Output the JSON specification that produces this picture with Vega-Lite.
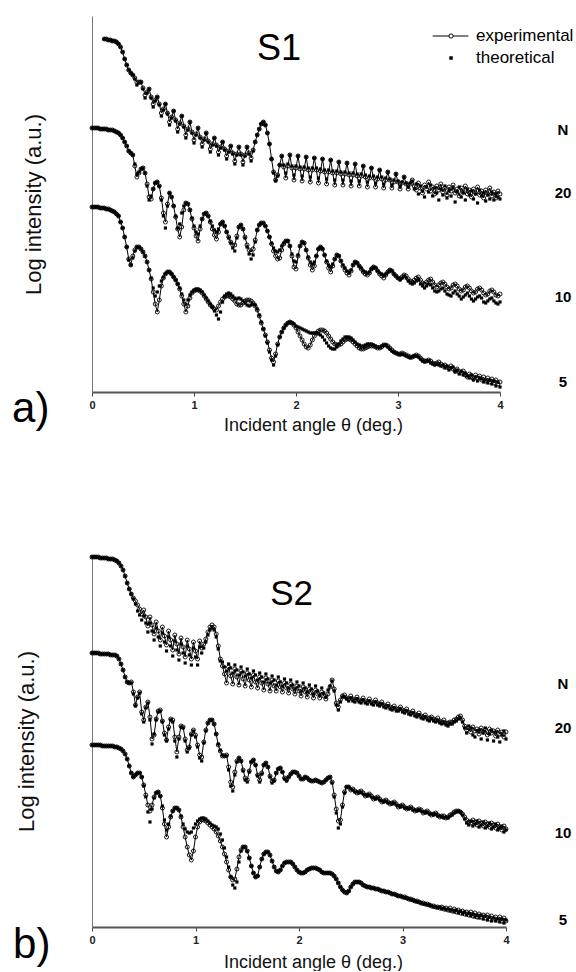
{
"$schema": "https://vega.github.io/schema/vega-lite/v6.json",
"background": "white",
"padding": {"left": 12, "top": 16, "right": 0, "bottom": 0},
"config": {"view": {"stroke": null}, "font": "Liberation Sans", "axis": {"grid": false}},
"datasets": {
"pa": [
{"x":0,"B":264,"b":264,"C":185,"c":185},
{"x":0.02,"B":264,"b":264,"C":185,"c":185},
{"x":0.04,"B":264,"b":264,"C":185,"c":185},
{"x":0.06,"B":264,"b":264,"C":185,"c":185},
{"x":0.08,"B":263,"b":263,"C":184,"c":184},
{"x":0.1,"B":263,"b":263,"C":184,"c":184},
{"x":0.12,"A":353,"a":353,"B":263,"b":263,"C":184,"c":184},
{"x":0.14,"A":353,"a":353,"B":263,"b":263,"C":183,"c":183},
{"x":0.16,"A":352,"a":352,"B":262,"b":262,"C":183,"c":183},
{"x":0.18,"A":352,"a":352,"B":262,"b":262,"C":182,"c":182},
{"x":0.2,"A":351,"a":351,"B":262,"b":262,"C":181,"c":181},
{"x":0.22,"A":351,"a":351,"B":261,"b":261,"C":180,"c":180},
{"x":0.24,"A":350,"a":350,"B":260,"b":260,"C":178,"c":178},
{"x":0.26,"A":348,"a":348,"B":259,"b":259,"C":176,"c":176},
{"x":0.28,"A":345,"a":345,"B":257,"b":257,"C":170,"c":170},
{"x":0.3,"A":340,"a":340,"B":254,"b":254,"C":164,"c":164},
{"x":0.32,"A":333,"a":333,"B":250,"b":250,"C":155,"c":155},
{"x":0.34,"A":327,"a":327,"B":246,"b":246,"C":145,"c":145},
{"x":0.36,"A":322,"a":322,"B":241,"b":241,"C":133,"c":132},
{"x":0.38,"A":319,"a":319,"B":239,"b":239,"C":127,"c":127},
{"x":0.4,"A":317,"a":317,"B":237,"b":237,"C":136,"c":134},
{"x":0.42,"A":314,"a":313,"B":226,"b":228,"C":142,"c":141},
{"x":0.44,"A":310,"a":307,"B":215,"b":218,"C":145,"c":145},
{"x":0.46,"A":310,"a":309,"B":219,"b":220,"C":145,"c":145},
{"x":0.48,"A":310,"a":310,"B":223,"b":223,"C":143,"c":143},
{"x":0.5,"A":304,"a":303,"B":224,"b":224,"C":140,"c":140},
{"x":0.52,"A":297,"a":294,"B":219,"b":219,"C":136,"c":136},
{"x":0.54,"A":300,"a":299,"B":208,"b":206,"C":130,"c":130},
{"x":0.56,"A":303,"a":303,"B":195,"b":192,"C":122,"c":122},
{"x":0.58,"A":295,"a":294,"B":193,"b":196,"C":113,"c":114},
{"x":0.6,"A":288,"a":285,"B":203,"b":203,"C":100,"c":104},
{"x":0.62,"A":292,"a":291,"B":209,"b":209,"C":88,"c":96},
{"x":0.64,"A":295,"a":295,"B":210,"b":210,"C":80,"c":100},
{"x":0.66,"A":288,"a":287,"B":206,"b":206,"C":92,"c":106},
{"x":0.68,"A":279,"a":276,"B":194,"b":192,"C":106,"c":111},
{"x":0.7,"A":283,"a":282,"B":179,"b":176,"C":114,"c":115},
{"x":0.72,"A":288,"a":288,"B":170,"b":164,"C":118,"c":118},
{"x":0.74,"A":279,"a":278,"B":188,"b":186,"C":120,"c":120},
{"x":0.76,"A":270,"a":267,"B":199,"b":199,"C":120,"c":120},
{"x":0.78,"A":275,"a":274,"B":195,"b":195,"C":118,"c":118},
{"x":0.8,"A":281,"a":281,"B":186,"b":186,"C":115,"c":115},
{"x":0.82,"A":272,"a":271,"B":175,"b":176,"C":112,"c":112},
{"x":0.84,"A":263,"a":260,"B":163,"b":164,"C":108,"c":108},
{"x":0.86,"A":269,"a":268,"B":155,"b":168,"C":103,"c":104},
{"x":0.88,"A":276,"a":276,"B":165,"b":179,"C":96,"c":98},
{"x":0.9,"A":266,"a":265,"B":182,"b":186,"C":88,"c":92},
{"x":0.92,"A":257,"a":254,"B":189,"b":189,"C":80,"c":88},
{"x":0.94,"A":263,"a":262,"B":188,"b":188,"C":86,"c":92},
{"x":0.96,"A":270,"a":270,"B":182,"b":182,"C":94,"c":97},
{"x":0.98,"A":260,"a":259,"B":173,"b":174,"C":99,"c":100},
{"x":1,"A":252,"a":249,"B":164,"b":166,"C":101,"c":102},
{"x":1.02,"A":258,"a":257,"B":156,"b":160,"C":102,"c":103},
{"x":1.04,"A":264,"a":264,"B":151,"b":158,"C":102,"c":103},
{"x":1.06,"A":255,"a":254,"B":163,"b":166,"C":101,"c":102},
{"x":1.08,"A":248,"a":245,"B":173,"b":173,"C":99,"c":100},
{"x":1.1,"A":253,"a":252,"B":178,"b":178,"C":96,"c":97},
{"x":1.12,"A":259,"a":259,"B":179,"b":179,"C":93,"c":94},
{"x":1.14,"A":251,"a":250,"B":176,"b":176,"C":90,"c":91},
{"x":1.16,"A":243,"a":240,"B":170,"b":171,"C":87,"c":88},
{"x":1.18,"A":248,"a":247,"B":163,"b":166,"C":85,"c":85},
{"x":1.2,"A":254,"a":254,"B":157,"b":162,"C":83,"c":81},
{"x":1.22,"A":247,"a":246,"B":153,"b":160,"C":82,"c":77},
{"x":1.24,"A":240,"a":237,"B":160,"b":163,"C":86,"c":73},
{"x":1.26,"A":245,"a":244,"B":168,"b":168,"C":90,"c":80},
{"x":1.28,"A":250,"a":250,"B":170,"b":170,"C":93,"c":90},
{"x":1.3,"A":243,"a":242,"B":166,"b":166,"C":95,"c":96},
{"x":1.32,"A":236,"a":233,"B":160,"b":160,"C":96,"c":98},
{"x":1.34,"A":241,"a":240,"B":155,"b":154,"C":96,"c":99},
{"x":1.36,"A":246,"a":246,"B":150,"b":149,"C":95,"c":98},
{"x":1.38,"A":239,"a":238,"B":147,"b":144,"C":93,"c":96},
{"x":1.4,"A":231,"a":228,"B":147,"b":141,"C":91,"c":94},
{"x":1.42,"A":238,"a":237,"B":156,"b":154,"C":88,"c":93},
{"x":1.44,"A":245,"a":245,"B":165,"b":165,"C":87,"c":94},
{"x":1.46,"A":238,"a":237,"B":167,"b":167,"C":87,"c":93},
{"x":1.48,"A":230,"a":227,"B":163,"b":163,"C":89,"c":91},
{"x":1.5,"A":237,"a":236,"B":155,"b":154,"C":91,"c":89},
{"x":1.52,"A":245,"a":245,"B":147,"b":145,"C":92,"c":87},
{"x":1.54,"A":239,"a":238,"B":142,"b":138,"C":92,"c":86},
{"x":1.56,"A":234,"a":231,"B":140,"b":133,"C":91,"c":87},
{"x":1.58,"A":242,"a":241,"B":143,"b":137,"C":89,"c":88},
{"x":1.6,"A":250,"a":250,"B":152,"b":150,"C":86,"c":87},
{"x":1.62,"A":257,"a":257,"B":162,"b":162,"C":82,"c":83},
{"x":1.64,"A":263,"a":263,"B":167,"b":167,"C":76,"c":77},
{"x":1.66,"A":268,"a":268,"B":169,"b":169,"C":69,"c":70},
{"x":1.68,"A":270,"a":270,"B":169,"b":169,"C":63,"c":63},
{"x":1.7,"A":267,"a":267,"B":166,"b":166,"C":57,"c":56},
{"x":1.72,"A":259,"a":259,"B":161,"b":161,"C":50,"c":49},
{"x":1.74,"A":248,"a":248,"B":155,"b":155,"C":42,"c":40},
{"x":1.76,"A":233,"a":233,"B":148,"b":149,"C":34,"c":32},
{"x":1.78,"A":220,"a":219,"B":141,"b":144,"C":30,"c":27},
{"x":1.8,"A":212,"a":211,"B":136,"b":141,"C":38,"c":36},
{"x":1.82,"A":217,"a":216,"B":133,"b":140,"C":48,"c":47},
{"x":1.84,"A":227,"a":227,"B":134,"b":142,"C":55,"c":55},
{"x":1.86,"A":236,"a":236,"B":142,"b":146,"C":60,"c":60},
{"x":1.88,"A":225,"a":227,"B":148,"b":149,"C":64,"c":64},
{"x":1.9,"A":214,"a":219,"B":151,"b":151,"C":67,"c":67},
{"x":1.92,"A":226,"a":228,"B":151,"b":151,"C":69,"c":69},
{"x":1.94,"A":237,"a":237,"B":146,"b":146,"C":70,"c":70},
{"x":1.96,"A":224,"a":226,"B":136,"b":138,"C":69,"c":69},
{"x":1.98,"A":212,"a":217,"B":125,"b":131,"C":67,"c":68},
{"x":2,"A":224,"a":226,"B":123,"b":130,"C":64,"c":66},
{"x":2.02,"A":236,"a":236,"B":136,"b":137,"C":60,"c":65},
{"x":2.04,"A":223,"a":225,"B":146,"b":146,"C":56,"c":64},
{"x":2.06,"A":211,"a":216,"B":150,"b":150,"C":52,"c":63},
{"x":2.08,"A":223,"a":225,"B":149,"b":149,"C":48,"c":62},
{"x":2.1,"A":235,"a":235,"B":142,"b":142,"C":45,"c":61},
{"x":2.12,"A":222,"a":224,"B":134,"b":135,"C":44,"c":60},
{"x":2.14,"A":210,"a":215,"B":127,"b":130,"C":47,"c":59},
{"x":2.16,"A":222,"a":224,"B":122,"b":128,"C":52,"c":59},
{"x":2.18,"A":234,"a":234,"B":126,"b":130,"C":56,"c":59},
{"x":2.2,"A":222,"a":224,"B":136,"b":136,"C":59,"c":59},
{"x":2.22,"A":209,"a":214,"B":143,"b":143,"C":61,"c":58},
{"x":2.24,"A":221,"a":223,"B":145,"b":145,"C":62,"c":57},
{"x":2.26,"A":233,"a":233,"B":143,"b":143,"C":62,"c":55},
{"x":2.28,"A":220,"a":222,"B":137,"b":137,"C":61,"c":52},
{"x":2.3,"A":208,"a":213,"B":130,"b":131,"C":59,"c":49},
{"x":2.32,"A":220,"a":222,"B":124,"b":127,"C":56,"c":46},
{"x":2.34,"A":232,"a":232,"B":120,"b":125,"C":53,"c":44},
{"x":2.36,"A":219,"a":221,"B":126,"b":128,"C":50,"c":43},
{"x":2.38,"A":207,"a":212,"B":133,"b":133,"C":48,"c":43},
{"x":2.4,"A":219,"a":221,"B":137,"b":137,"C":47,"c":45},
{"x":2.42,"A":230,"a":230,"B":136,"b":136,"C":47,"c":48},
{"x":2.44,"A":218,"a":220,"B":131,"b":131,"C":48,"c":51},
{"x":2.46,"A":207,"a":212,"B":126,"b":127,"C":50,"c":53},
{"x":2.48,"A":218,"a":220,"B":122,"b":124,"C":52,"c":55},
{"x":2.5,"A":229,"a":229,"B":119,"b":121,"C":53,"c":55},
{"x":2.52,"A":217,"a":219,"B":117,"b":120,"C":53,"c":55},
{"x":2.54,"A":206,"a":211,"B":121,"b":122,"C":52,"c":54},
{"x":2.56,"A":217,"a":219,"B":127,"b":127,"C":50,"c":52},
{"x":2.58,"A":228,"a":228,"B":130,"b":130,"C":48,"c":50},
{"x":2.6,"A":216,"a":218,"B":129,"b":129,"C":46,"c":48},
{"x":2.62,"A":206,"a":211,"B":126,"b":126,"C":44,"c":47},
{"x":2.64,"A":216,"a":218,"B":123,"b":124,"C":43,"c":46},
{"x":2.66,"A":226,"a":226,"B":120,"b":121,"C":43,"c":46},
{"x":2.68,"A":215,"a":217,"B":118,"b":120,"C":44,"c":47},
{"x":2.7,"A":205,"a":210,"B":117,"b":119,"C":45,"c":48},
{"x":2.72,"A":214,"a":216,"B":119,"b":120,"C":46,"c":48},
{"x":2.74,"A":224,"a":224,"B":123,"b":123,"C":46,"c":48},
{"x":2.76,"A":214,"a":216,"B":125,"b":125,"C":46,"c":47},
{"x":2.78,"A":205,"a":209,"B":124,"b":124,"C":45,"c":46},
{"x":2.8,"A":213,"a":215,"B":121,"b":121,"C":44,"c":45},
{"x":2.82,"A":222,"a":222,"B":118,"b":119,"C":44,"c":45},
{"x":2.84,"A":213,"a":215,"B":116,"b":118,"C":45,"c":46},
{"x":2.86,"A":204,"a":208,"B":114,"b":117,"C":47,"c":47},
{"x":2.88,"A":212,"a":214,"B":117,"b":118,"C":47,"c":47},
{"x":2.9,"A":220,"a":220,"B":120,"b":120,"C":46,"c":45},
{"x":2.92,"A":212,"a":213,"B":122,"b":122,"C":44,"c":43},
{"x":2.94,"A":204,"a":207,"B":121,"b":121,"C":42,"c":41},
{"x":2.96,"A":210,"a":212,"B":118,"b":118,"C":40,"c":40},
{"x":2.98,"A":218,"a":218,"B":116,"b":116,"C":39,"c":39},
{"x":3,"A":210,"a":211,"B":114,"b":114,"C":38,"c":38},
{"x":3.02,"A":203,"a":206,"B":113,"b":112,"C":38,"c":37},
{"x":3.04,"A":209,"a":210,"B":115,"b":114,"C":39,"c":38},
{"x":3.06,"A":215,"a":215,"B":117,"b":116,"C":38,"c":37},
{"x":3.08,"A":208,"a":209,"B":116,"b":114,"C":37,"c":36},
{"x":3.1,"A":203,"a":205,"B":113,"b":111,"C":36,"c":35},
{"x":3.12,"A":208,"a":209,"B":111,"b":109,"C":35,"c":34},
{"x":3.14,"A":212,"a":211,"B":110,"b":108,"C":35,"c":35},
{"x":3.16,"A":206,"a":203,"B":112,"b":109,"C":36,"c":36},
{"x":3.18,"A":202,"a":208,"B":114,"b":111,"C":37,"c":36},
{"x":3.2,"A":209,"a":198,"B":115,"b":112,"C":36,"c":35},
{"x":3.22,"A":204,"a":206,"B":112,"b":108,"C":34,"c":33},
{"x":3.24,"A":199,"a":201,"B":109,"b":106,"C":32,"c":31},
{"x":3.26,"A":207,"a":195,"B":108,"b":104,"C":31,"c":30},
{"x":3.28,"A":203,"a":205,"B":110,"b":106,"C":31,"c":31},
{"x":3.3,"A":210,"a":200,"B":112,"b":108,"C":32,"c":31},
{"x":3.32,"A":201,"a":207,"B":113,"b":107,"C":31,"c":29},
{"x":3.34,"A":205,"a":196,"B":110,"b":104,"C":29,"c":28},
{"x":3.36,"A":198,"a":204,"B":107,"b":101,"C":28,"c":27},
{"x":3.38,"A":206,"a":199,"B":105,"b":100,"C":29,"c":28},
{"x":3.4,"A":202,"a":192,"B":107,"b":101,"C":30,"c":27},
{"x":3.42,"A":208,"a":203,"B":109,"b":103,"C":28,"c":26},
{"x":3.44,"A":200,"a":197,"B":110,"b":104,"C":26,"c":27},
{"x":3.46,"A":204,"a":206,"B":108,"b":101,"C":27,"c":24},
{"x":3.48,"A":197,"a":194,"B":105,"b":98,"C":25,"c":26},
{"x":3.5,"A":205,"a":201,"B":103,"b":97,"C":24,"c":22},
{"x":3.52,"A":201,"a":196,"B":104,"b":96,"C":26,"c":24},
{"x":3.54,"A":207,"a":204,"B":107,"b":99,"C":23,"c":25},
{"x":3.56,"A":199,"a":190,"B":108,"b":101,"C":21,"c":20},
{"x":3.58,"A":203,"a":200,"B":106,"b":98,"C":23,"c":22},
{"x":3.6,"A":196,"a":205,"B":103,"b":96,"C":20,"c":18},
{"x":3.62,"A":204,"a":195,"B":101,"b":93,"C":19,"c":21},
{"x":3.64,"A":200,"a":199,"B":102,"b":95,"C":21,"c":17},
{"x":3.66,"A":206,"a":192,"B":105,"b":97,"C":17,"c":19},
{"x":3.68,"A":198,"a":203,"B":106,"b":99,"C":15,"c":16},
{"x":3.7,"A":202,"a":197,"B":104,"b":96,"C":18,"c":14},
{"x":3.72,"A":195,"a":201,"B":101,"b":93,"C":16,"c":17},
{"x":3.74,"A":203,"a":193,"B":99,"b":91,"C":13,"c":12},
{"x":3.76,"A":199,"a":198,"B":100,"b":93,"C":17,"c":15},
{"x":3.78,"A":205,"a":189,"B":103,"b":95,"C":14,"c":11},
{"x":3.8,"A":197,"a":202,"B":104,"b":96,"C":16,"c":14},
{"x":3.82,"A":201,"a":196,"B":102,"b":94,"C":12,"c":13},
{"x":3.84,"A":194,"a":199,"B":99,"b":90,"C":15,"c":10},
{"x":3.86,"A":202,"a":191,"B":97,"b":89,"C":11,"c":12},
{"x":3.88,"A":198,"a":197,"B":98,"b":91,"C":14,"c":9},
{"x":3.9,"A":204,"a":193,"B":101,"b":93,"C":10,"c":12},
{"x":3.92,"A":196,"a":200,"B":102,"b":94,"C":13,"c":8},
{"x":3.94,"A":200,"a":192,"B":100,"b":91,"C":9,"c":11},
{"x":3.96,"A":194,"a":198,"B":97,"b":89,"C":12,"c":6},
{"x":3.98,"A":201,"a":195,"B":96,"b":88,"C":8,"c":10},
{"x":4,"A":198,"a":193,"B":98,"b":90,"C":10,"c":5}
],
"pb": [
{"x":0,"A":370,"a":370,"B":274,"b":274,"C":182,"c":182},
{"x":0.02,"A":370,"a":370,"B":274,"b":274,"C":182,"c":182},
{"x":0.04,"A":370,"a":370,"B":274,"b":274,"C":182,"c":182},
{"x":0.06,"A":370,"a":370,"B":274,"b":274,"C":182,"c":182},
{"x":0.08,"A":369,"a":369,"B":273,"b":273,"C":182,"c":182},
{"x":0.1,"A":369,"a":369,"B":273,"b":273,"C":181,"c":181},
{"x":0.12,"A":369,"a":369,"B":273,"b":273,"C":181,"c":181},
{"x":0.14,"A":369,"a":369,"B":273,"b":273,"C":181,"c":181},
{"x":0.16,"A":368,"a":368,"B":273,"b":273,"C":181,"c":181},
{"x":0.18,"A":368,"a":368,"B":272,"b":272,"C":181,"c":181},
{"x":0.2,"A":368,"a":368,"B":272,"b":272,"C":181,"c":181},
{"x":0.22,"A":367,"a":367,"B":272,"b":272,"C":180,"c":180},
{"x":0.24,"A":366,"a":366,"B":271,"b":271,"C":180,"c":180},
{"x":0.26,"A":364,"a":364,"B":268,"b":268,"C":179,"c":179},
{"x":0.28,"A":361,"a":361,"B":263,"b":263,"C":178,"c":178},
{"x":0.3,"A":357,"a":357,"B":257,"b":257,"C":176,"c":176},
{"x":0.32,"A":351,"a":351,"B":250,"b":250,"C":173,"c":173},
{"x":0.34,"A":344,"a":344,"B":245,"b":245,"C":168,"c":168},
{"x":0.36,"A":338,"a":338,"B":244,"b":244,"C":161,"c":161},
{"x":0.38,"A":333,"a":333,"B":245,"b":244,"C":154,"c":154},
{"x":0.4,"A":329,"a":328,"B":235,"b":233,"C":150,"c":150},
{"x":0.42,"A":326,"a":323,"B":222,"b":221,"C":152,"c":152},
{"x":0.44,"A":322,"a":316,"B":230,"b":229,"C":154,"c":154},
{"x":0.46,"A":318,"a":312,"B":235,"b":234,"C":154,"c":154},
{"x":0.48,"A":313,"a":307,"B":215,"b":213,"C":150,"c":150},
{"x":0.5,"A":317,"a":311,"B":207,"b":205,"C":142,"c":141},
{"x":0.52,"A":310,"a":304,"B":220,"b":219,"C":132,"c":130},
{"x":0.54,"A":301,"a":295,"B":225,"b":224,"C":122,"c":115},
{"x":0.56,"A":310,"a":304,"B":210,"b":207,"C":116,"c":105},
{"x":0.58,"A":302,"a":296,"B":188,"b":183,"C":122,"c":118},
{"x":0.6,"A":293,"a":287,"B":192,"b":193,"C":130,"c":129},
{"x":0.62,"A":305,"a":299,"B":208,"b":207,"C":134,"c":134},
{"x":0.64,"A":296,"a":290,"B":216,"b":215,"C":135,"c":135},
{"x":0.66,"A":287,"a":281,"B":217,"b":216,"C":131,"c":131},
{"x":0.68,"A":300,"a":294,"B":206,"b":205,"C":119,"c":121},
{"x":0.7,"A":291,"a":285,"B":194,"b":192,"C":103,"c":107},
{"x":0.72,"A":282,"a":276,"B":187,"b":186,"C":90,"c":97},
{"x":0.74,"A":296,"a":290,"B":200,"b":198,"C":100,"c":103},
{"x":0.76,"A":287,"a":281,"B":208,"b":207,"C":110,"c":111},
{"x":0.78,"A":277,"a":271,"B":207,"b":205,"C":116,"c":116},
{"x":0.8,"A":292,"a":286,"B":190,"b":186,"C":119,"c":119},
{"x":0.82,"A":283,"a":277,"B":175,"b":170,"C":119,"c":119},
{"x":0.84,"A":273,"a":267,"B":190,"b":188,"C":117,"c":117},
{"x":0.86,"A":289,"a":283,"B":201,"b":200,"C":110,"c":111},
{"x":0.88,"A":280,"a":274,"B":200,"b":199,"C":100,"c":103},
{"x":0.9,"A":270,"a":264,"B":188,"b":186,"C":90,"c":98},
{"x":0.92,"A":287,"a":281,"B":177,"b":175,"C":80,"c":95},
{"x":0.94,"A":278,"a":272,"B":180,"b":179,"C":72,"c":94},
{"x":0.96,"A":268,"a":262,"B":193,"b":192,"C":67,"c":95},
{"x":0.98,"A":285,"a":279,"B":197,"b":196,"C":76,"c":99},
{"x":1,"A":276,"a":270,"B":192,"b":190,"C":90,"c":103},
{"x":1.02,"A":268,"a":262,"B":182,"b":180,"C":100,"c":106},
{"x":1.04,"A":286,"a":280,"B":172,"b":169,"C":105,"c":108},
{"x":1.06,"A":279,"a":274,"B":170,"b":166,"C":107,"c":109},
{"x":1.08,"A":283,"a":279,"B":185,"b":184,"C":107,"c":109},
{"x":1.1,"A":288,"a":285,"B":197,"b":196,"C":106,"c":108},
{"x":1.12,"A":295,"a":292,"B":204,"b":204,"C":104,"c":106},
{"x":1.14,"A":300,"a":297,"B":207,"b":207,"C":102,"c":104},
{"x":1.16,"A":302,"a":299,"B":207,"b":207,"C":100,"c":102},
{"x":1.18,"A":300,"a":297,"B":203,"b":203,"C":98,"c":101},
{"x":1.2,"A":293,"a":290,"B":193,"b":193,"C":95,"c":100},
{"x":1.22,"A":281,"a":278,"B":182,"b":183,"C":91,"c":98},
{"x":1.24,"A":268,"a":266,"B":176,"b":177,"C":86,"c":93},
{"x":1.26,"A":261,"a":265,"B":171,"b":172,"C":80,"c":87},
{"x":1.28,"A":253,"a":260,"B":171,"b":171,"C":73,"c":79},
{"x":1.3,"A":244,"a":256,"B":172,"b":171,"C":65,"c":70},
{"x":1.32,"A":260,"a":263,"B":160,"b":157,"C":57,"c":60},
{"x":1.34,"A":251,"a":259,"B":145,"b":141,"C":50,"c":50},
{"x":1.36,"A":243,"a":254,"B":140,"b":136,"C":47,"c":42},
{"x":1.38,"A":258,"a":262,"B":155,"b":152,"C":48,"c":39},
{"x":1.4,"A":250,"a":257,"B":166,"b":165,"C":58,"c":45},
{"x":1.42,"A":242,"a":252,"B":169,"b":169,"C":70,"c":65},
{"x":1.44,"A":256,"a":260,"B":166,"b":166,"C":77,"c":76},
{"x":1.46,"A":248,"a":255,"B":157,"b":156,"C":80,"c":80},
{"x":1.48,"A":241,"a":251,"B":149,"b":147,"C":80,"c":80},
{"x":1.5,"A":254,"a":258,"B":147,"b":145,"C":76,"c":76},
{"x":1.52,"A":247,"a":253,"B":156,"b":155,"C":69,"c":69},
{"x":1.54,"A":240,"a":249,"B":165,"b":165,"C":61,"c":61},
{"x":1.56,"A":252,"a":256,"B":167,"b":167,"C":54,"c":54},
{"x":1.58,"A":245,"a":252,"B":162,"b":162,"C":50,"c":50},
{"x":1.6,"A":239,"a":247,"B":152,"b":151,"C":51,"c":51},
{"x":1.62,"A":250,"a":254,"B":147,"b":145,"C":60,"c":60},
{"x":1.64,"A":244,"a":250,"B":154,"b":153,"C":68,"c":68},
{"x":1.66,"A":237,"a":245,"B":162,"b":162,"C":73,"c":73},
{"x":1.68,"A":249,"a":253,"B":164,"b":164,"C":75,"c":75},
{"x":1.7,"A":243,"a":248,"B":160,"b":160,"C":75,"c":75},
{"x":1.72,"A":236,"a":244,"B":151,"b":150,"C":72,"c":72},
{"x":1.74,"A":247,"a":251,"B":146,"b":144,"C":66,"c":66},
{"x":1.76,"A":241,"a":247,"B":147,"b":146,"C":60,"c":60},
{"x":1.78,"A":236,"a":242,"B":154,"b":154,"C":56,"c":56},
{"x":1.8,"A":246,"a":250,"B":158,"b":158,"C":55,"c":55},
{"x":1.82,"A":240,"a":245,"B":159,"b":159,"C":57,"c":57},
{"x":1.84,"A":235,"a":241,"B":155,"b":155,"C":61,"c":61},
{"x":1.86,"A":244,"a":248,"B":149,"b":148,"C":64,"c":64},
{"x":1.88,"A":239,"a":244,"B":147,"b":146,"C":65,"c":65},
{"x":1.9,"A":234,"a":239,"B":150,"b":150,"C":65,"c":65},
{"x":1.92,"A":243,"a":247,"B":153,"b":153,"C":65,"c":65},
{"x":1.94,"A":238,"a":242,"B":155,"b":155,"C":63,"c":63},
{"x":1.96,"A":233,"a":238,"B":155,"b":155,"C":60,"c":60},
{"x":1.98,"A":241,"a":245,"B":154,"b":154,"C":57,"c":57},
{"x":2,"A":236,"a":241,"B":151,"b":151,"C":55,"c":55},
{"x":2.02,"A":231,"a":236,"B":148,"b":148,"C":54,"c":54},
{"x":2.04,"A":240,"a":244,"B":148,"b":148,"C":54,"c":54},
{"x":2.06,"A":235,"a":239,"B":150,"b":150,"C":55,"c":55},
{"x":2.08,"A":230,"a":235,"B":149,"b":149,"C":57,"c":57},
{"x":2.1,"A":238,"a":242,"B":147,"b":147,"C":58,"c":58},
{"x":2.12,"A":234,"a":238,"B":146,"b":146,"C":59,"c":59},
{"x":2.14,"A":229,"a":233,"B":146,"b":146,"C":59,"c":59},
{"x":2.16,"A":237,"a":241,"B":147,"b":147,"C":59,"c":59},
{"x":2.18,"A":233,"a":236,"B":146,"b":146,"C":58,"c":58},
{"x":2.2,"A":229,"a":232,"B":145,"b":145,"C":57,"c":57},
{"x":2.22,"A":235,"a":239,"B":144,"b":144,"C":55,"c":55},
{"x":2.24,"A":231,"a":234,"B":145,"b":145,"C":54,"c":54},
{"x":2.26,"A":228,"a":230,"B":147,"b":147,"C":54,"c":54},
{"x":2.28,"A":233,"a":237,"B":149,"b":149,"C":54,"c":54},
{"x":2.3,"A":240,"a":241,"B":150,"b":150,"C":54,"c":54},
{"x":2.32,"A":247,"a":246,"B":145,"b":144,"C":53,"c":53},
{"x":2.34,"A":238,"a":236,"B":132,"b":130,"C":51,"c":51},
{"x":2.36,"A":224,"a":222,"B":118,"b":114,"C":48,"c":48},
{"x":2.38,"A":220,"a":217,"B":106,"b":99,"C":44,"c":44},
{"x":2.4,"A":227,"a":225,"B":107,"b":103,"C":40,"c":40},
{"x":2.42,"A":231,"a":230,"B":122,"b":120,"C":37,"c":37},
{"x":2.44,"A":232,"a":230,"B":135,"b":134,"C":35,"c":35},
{"x":2.46,"A":229,"a":228,"B":140,"b":140,"C":34,"c":34},
{"x":2.48,"A":228,"a":226,"B":140,"b":140,"C":36,"c":36},
{"x":2.5,"A":231,"a":229,"B":137,"b":138,"C":40,"c":40},
{"x":2.52,"A":228,"a":226,"B":138,"b":137,"C":43,"c":43},
{"x":2.54,"A":227,"a":225,"B":136,"b":135,"C":45,"c":45},
{"x":2.56,"A":230,"a":228,"B":134,"b":135,"C":45,"c":45},
{"x":2.58,"A":227,"a":225,"B":135,"b":134,"C":45,"c":45},
{"x":2.6,"A":226,"a":224,"B":136,"b":135,"C":44,"c":44},
{"x":2.62,"A":229,"a":227,"B":134,"b":133,"C":42,"c":42},
{"x":2.64,"A":226,"a":224,"B":131,"b":132,"C":41,"c":41},
{"x":2.66,"A":225,"a":223,"B":132,"b":131,"C":40,"c":40},
{"x":2.68,"A":228,"a":226,"B":133,"b":132,"C":40,"c":40},
{"x":2.7,"A":225,"a":223,"B":131,"b":130,"C":39,"c":39},
{"x":2.72,"A":224,"a":222,"B":128,"b":129,"C":39,"c":39},
{"x":2.74,"A":227,"a":225,"B":129,"b":128,"C":38,"c":38},
{"x":2.76,"A":224,"a":222,"B":130,"b":129,"C":38,"c":38},
{"x":2.78,"A":223,"a":221,"B":128,"b":127,"C":37,"c":37},
{"x":2.8,"A":225,"a":223,"B":125,"b":126,"C":36,"c":36},
{"x":2.82,"A":222,"a":220,"B":126,"b":125,"C":36,"c":36},
{"x":2.84,"A":221,"a":219,"B":127,"b":126,"C":35,"c":35},
{"x":2.86,"A":223,"a":221,"B":125,"b":124,"C":35,"c":35},
{"x":2.88,"A":220,"a":218,"B":123,"b":124,"C":34,"c":34},
{"x":2.9,"A":219,"a":217,"B":124,"b":123,"C":33,"c":33},
{"x":2.92,"A":221,"a":219,"B":125,"b":124,"C":33,"c":33},
{"x":2.94,"A":218,"a":216,"B":123,"b":122,"C":32,"c":32},
{"x":2.96,"A":218,"a":216,"B":120,"b":121,"C":31,"c":31},
{"x":2.98,"A":220,"a":218,"B":121,"b":120,"C":31,"c":31},
{"x":3,"A":217,"a":215,"B":122,"b":121,"C":30,"c":30},
{"x":3.02,"A":216,"a":214,"B":120,"b":119,"C":30,"c":29},
{"x":3.04,"A":218,"a":216,"B":118,"b":119,"C":29,"c":29},
{"x":3.06,"A":215,"a":213,"B":119,"b":118,"C":28,"c":28},
{"x":3.08,"A":214,"a":212,"B":120,"b":119,"C":28,"c":27},
{"x":3.1,"A":216,"a":214,"B":118,"b":117,"C":27,"c":27},
{"x":3.12,"A":213,"a":211,"B":116,"b":117,"C":26,"c":26},
{"x":3.14,"A":212,"a":210,"B":117,"b":116,"C":26,"c":25},
{"x":3.16,"A":214,"a":212,"B":118,"b":117,"C":25,"c":25},
{"x":3.18,"A":211,"a":209,"B":117,"b":116,"C":24,"c":24},
{"x":3.2,"A":210,"a":208,"B":114,"b":115,"C":24,"c":23},
{"x":3.22,"A":212,"a":210,"B":115,"b":114,"C":23,"c":23},
{"x":3.24,"A":209,"a":207,"B":116,"b":115,"C":23,"c":22},
{"x":3.26,"A":209,"a":206,"B":114,"b":113,"C":22,"c":22},
{"x":3.28,"A":210,"a":208,"B":112,"b":113,"C":21,"c":21},
{"x":3.3,"A":208,"a":206,"B":113,"b":112,"C":21,"c":20},
{"x":3.32,"A":207,"a":205,"B":114,"b":113,"C":20,"c":20},
{"x":3.34,"A":209,"a":206,"B":112,"b":111,"C":20,"c":19},
{"x":3.36,"A":206,"a":204,"B":110,"b":111,"C":19,"c":20},
{"x":3.38,"A":205,"a":203,"B":111,"b":110,"C":20,"c":18},
{"x":3.4,"A":207,"a":204,"B":111,"b":109,"C":18,"c":19},
{"x":3.42,"A":204,"a":202,"B":109,"b":110,"C":19,"c":17},
{"x":3.44,"A":204,"a":201,"B":110,"b":109,"C":17,"c":18},
{"x":3.46,"A":205,"a":203,"B":112,"b":111,"C":19,"c":16},
{"x":3.48,"A":205,"a":203,"B":113,"b":112,"C":16,"c":17},
{"x":3.5,"A":207,"a":205,"B":115,"b":114,"C":18,"c":15},
{"x":3.52,"A":208,"a":206,"B":116,"b":115,"C":15,"c":17},
{"x":3.54,"A":210,"a":208,"B":116,"b":116,"C":17,"c":14},
{"x":3.56,"A":211,"a":209,"B":115,"b":115,"C":14,"c":16},
{"x":3.58,"A":207,"a":205,"B":113,"b":112,"C":16,"c":13},
{"x":3.6,"A":201,"a":199,"B":110,"b":108,"C":13,"c":15},
{"x":3.62,"A":197,"a":194,"B":107,"b":104,"C":15,"c":12},
{"x":3.64,"A":199,"a":201,"B":105,"b":102,"C":12,"c":14},
{"x":3.66,"A":195,"a":199,"B":104,"b":106,"C":15,"c":11},
{"x":3.68,"A":200,"a":192,"B":107,"b":101,"C":11,"c":13},
{"x":3.7,"A":196,"a":190,"B":105,"b":103,"C":14,"c":10},
{"x":3.72,"A":198,"a":196,"B":102,"b":106,"C":10,"c":12},
{"x":3.74,"A":193,"a":197,"B":106,"b":100,"C":13,"c":9},
{"x":3.76,"A":199,"a":188,"B":104,"b":102,"C":10,"c":12},
{"x":3.78,"A":195,"a":194,"B":101,"b":105,"C":12,"c":8},
{"x":3.8,"A":197,"a":199,"B":105,"b":99,"C":9,"c":11},
{"x":3.82,"A":192,"a":187,"B":103,"b":101,"C":12,"c":7},
{"x":3.84,"A":198,"a":193,"B":100,"b":104,"C":8,"c":10},
{"x":3.86,"A":194,"a":197,"B":104,"b":98,"C":11,"c":6},
{"x":3.88,"A":196,"a":186,"B":102,"b":100,"C":8,"c":9},
{"x":3.9,"A":191,"a":195,"B":99,"b":103,"C":10,"c":6},
{"x":3.92,"A":197,"a":190,"B":103,"b":97,"C":7,"c":8},
{"x":3.94,"A":193,"a":185,"B":100,"b":99,"C":10,"c":5},
{"x":3.96,"A":195,"a":192,"B":97,"b":101,"C":6,"c":8},
{"x":3.98,"A":190,"a":196,"B":101,"b":95,"C":9,"c":4},
{"x":4,"A":195,"a":188,"B":98,"b":97,"C":6,"c":7}
]
},
"spacing": 163,
"bounds": "flush",
"vconcat": [
{
"width": 408, "height": 376,
"encoding": {
"x": {"field": "x", "type": "quantitative", "scale": {"domain": [0, 4], "nice": false, "zero": false},
 "axis": {"values": [0,0.5,1,1.5,2,2.5,3,3.5,4], "format": "d", "labelExpr": "datum.value % 1 === 0 ? datum.label : ''",
  "tickSize": 4, "tickColor": "#444", "tickWidth": 1, "domainColor": "#555", "domainWidth": 2,
  "labelFont": "Liberation Sans", "labelFontSize": 11, "labelFontWeight": "bold", "labelColor": "#222", "labelPadding": 3, "labelFlush": false,
  "title": "Incident angle θ (deg.)", "titleFont": "Liberation Sans", "titleFontSize": 18, "titleFontWeight": "normal", "titleColor": "#111",
  "titleX": 221, "titleY": 38, "titleAlign": "center", "titleBaseline": "alphabetic", "grid": false}},
"y": {"field": "h", "type": "quantitative", "scale": {"domain": [0, 376], "nice": false, "zero": false},
 "axis": {"title": "Log intensity (a.u.)", "ticks": false, "labels": false, "domainColor": "#777", "domainWidth": 1,
  "titleFont": "Liberation Sans", "titleFontSize": 22, "titleFontWeight": "normal", "titleColor": "#111",
  "titleX": -52, "titleY": 188, "titleAngle": 270, "titleAlign": "center", "titleBaseline": "alphabetic", "grid": false}}
},
"layer": [
{"data": {"name": "pa"}, "transform": [{"fold": ["A","B","C"], "as": ["k","h"]}, {"filter": "isValid(datum.h)"}],
 "mark": {"type": "line", "color": "black", "strokeWidth": 1}, "encoding": {"detail": {"field": "k"}}},
{"data": {"name": "pa"}, "transform": [{"fold": ["A","B","C"], "as": ["k","h"]}, {"filter": "isValid(datum.h)"}],
 "mark": {"type": "point", "shape": "circle", "filled": false, "color": "black", "strokeWidth": 0.9, "size": 16, "opacity": 1}},
{"data": {"name": "pa"}, "transform": [{"fold": ["a","b","c"], "as": ["k","h"]}, {"filter": "isValid(datum.h)"}],
 "mark": {"type": "square", "color": "black", "size": 10, "opacity": 1}},
{"data": {"values": [{"x": 1.833, "h": 332, "t": "S1"}]},
 "mark": {"type": "text", "fontSize": 36, "font": "Liberation Sans", "align": "center", "baseline": "alphabetic", "color": "black"},
 "encoding": {"text": {"field": "t"}}},
{"data": {"values": [{"x": -0.784, "h": -30, "t": "a)"}]},
 "mark": {"type": "text", "fontSize": 42, "font": "Liberation Sans", "align": "left", "baseline": "alphabetic", "color": "black"},
 "encoding": {"text": {"field": "t"}}},
{"data": {"values": [{"x": 4.618, "h": 262, "t": "N"}, {"x": 4.618, "h": 199, "t": "20"}, {"x": 4.618, "h": 95, "t": "10"}, {"x": 4.618, "h": 10, "t": "5"}]},
 "mark": {"type": "text", "fontSize": 15, "fontWeight": "bold", "font": "Liberation Sans", "align": "center", "baseline": "middle", "color": "black"},
 "encoding": {"text": {"field": "t"}}},
{"data": {"values": [{"x": 3.34, "x2": 3.69, "h": 356}]},
 "mark": {"type": "rule", "color": "black", "strokeWidth": 1},
 "encoding": {"x2": {"field": "x2"}}},
{"data": {"values": [{"x": 3.52, "h": 356}]},
 "mark": {"type": "point", "shape": "circle", "filled": true, "fill": "white", "stroke": "black", "strokeWidth": 1, "size": 18, "opacity": 1}},
{"data": {"values": [{"x": 3.52, "h": 334}]},
 "mark": {"type": "square", "color": "black", "size": 12, "opacity": 1}},
{"data": {"values": [{"x": 3.765, "h": 356, "t": "experimental"}, {"x": 3.765, "h": 334, "t": "theoretical"}]},
 "mark": {"type": "text", "fontSize": 17, "font": "Liberation Sans", "align": "left", "baseline": "middle", "color": "black"},
 "encoding": {"text": {"field": "t"}}}
]
},
{
"width": 414, "height": 372,
"encoding": {
"x": {"field": "x", "type": "quantitative", "scale": {"domain": [0, 4], "nice": false, "zero": false},
 "axis": {"values": [0,0.5,1,1.5,2,2.5,3,3.5,4], "format": "d", "labelExpr": "datum.value % 1 === 0 ? datum.label : ''",
  "tickSize": 4, "tickColor": "#444", "tickWidth": 1, "domainColor": "#555", "domainWidth": 2,
  "labelFont": "Liberation Sans", "labelFontSize": 11, "labelFontWeight": "bold", "labelColor": "#222", "labelPadding": 3, "labelFlush": false,
  "title": "Incident angle θ (deg.)", "titleFont": "Liberation Sans", "titleFontSize": 18, "titleFontWeight": "normal", "titleColor": "#111",
  "titleX": 221, "titleY": 40, "titleAlign": "center", "titleBaseline": "alphabetic", "grid": false}},
"y": {"field": "h", "type": "quantitative", "scale": {"domain": [0, 372], "nice": false, "zero": false},
 "axis": {"title": "Log intensity (a.u.)", "ticks": false, "labels": false, "domainColor": "#777", "domainWidth": 1,
  "titleFont": "Liberation Sans", "titleFontSize": 22, "titleFontWeight": "normal", "titleColor": "#111",
  "titleX": -59, "titleY": 186, "titleAngle": 270, "titleAlign": "center", "titleBaseline": "alphabetic", "grid": false}}
},
"layer": [
{"data": {"name": "pb"}, "transform": [{"fold": ["A","B","C"], "as": ["k","h"]}, {"filter": "isValid(datum.h)"}],
 "mark": {"type": "line", "color": "black", "strokeWidth": 1}, "encoding": {"detail": {"field": "k"}}},
{"data": {"name": "pb"}, "transform": [{"fold": ["A","B","C"], "as": ["k","h"]}, {"filter": "isValid(datum.h)"}],
 "mark": {"type": "point", "shape": "circle", "filled": false, "color": "black", "strokeWidth": 0.9, "size": 16, "opacity": 1}},
{"data": {"name": "pb"}, "transform": [{"fold": ["a","b","c"], "as": ["k","h"]}, {"filter": "isValid(datum.h)"}],
 "mark": {"type": "square", "color": "black", "size": 10, "opacity": 1}},
{"data": {"values": [{"x": 1.928, "h": 322, "t": "S2"}]},
 "mark": {"type": "text", "fontSize": 35, "font": "Liberation Sans", "align": "center", "baseline": "alphabetic", "color": "black"},
 "encoding": {"text": {"field": "t"}}},
{"data": {"values": [{"x": -0.763, "h": -31, "t": "b)"}]},
 "mark": {"type": "text", "fontSize": 42, "font": "Liberation Sans", "align": "left", "baseline": "alphabetic", "color": "black"},
 "encoding": {"text": {"field": "t"}}},
{"data": {"values": [{"x": 4.551, "h": 243, "t": "N"}, {"x": 4.551, "h": 199, "t": "20"}, {"x": 4.551, "h": 94, "t": "10"}, {"x": 4.551, "h": 7, "t": "5"}]},
 "mark": {"type": "text", "fontSize": 15, "fontWeight": "bold", "font": "Liberation Sans", "align": "center", "baseline": "middle", "color": "black"},
 "encoding": {"text": {"field": "t"}}}
]
}
]
}
